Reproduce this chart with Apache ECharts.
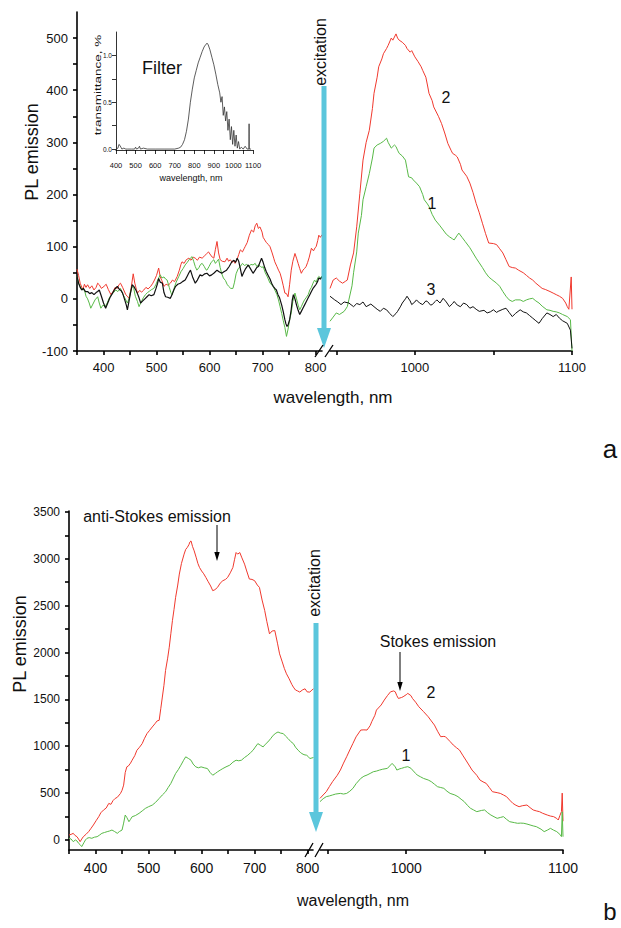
<!DOCTYPE html>
<html><head><meta charset="utf-8">
<script src="https://cdn.jsdelivr.net/npm/echarts@6/dist/echarts.min.js"></script>
<style>html,body{margin:0;padding:0;background:#fff}#c{width:621px;height:928px}</style>
</head><body><div id="c"></div>
<script>
// ---------------- DATA ----------------
// Panel a, left segment (nm, PL emission)
const a_curve2_left = [[350,57],[353,45],[356,30],[361,17],[364,28],[367,22],[370,27],[374,20],[378,25],[382,17],[386,22],[389,30],[392,27],[396,20],[401,24],[405,28],[409,18],[414,8],[418,14],[422,22],[426,20],[429,27],[432,30],[436,22],[439,15],[442,8],[445,5],[448,1],[452,20],[456,48],[459,30],[462,18],[464,11],[468,16],[472,13],[476,17],[480,22],[484,19],[489,24],[493,30],[497,38],[500,45],[504,59],[507,42],[510,35],[514,24],[518,28],[522,26],[526,30],[530,36],[534,33],[539,43],[543,55],[546,66],[548,71],[552,68],[556,75],[561,78],[565,74],[569,80],[573,78],[577,74],[581,80],[586,78],[590,82],[594,86],[598,90],[602,84],[605,80],[608,78],[611,95],[614,110],[617,88],[620,75],[624,72],[629,71],[633,78],[636,72],[639,75],[643,70],[646,73],[648,68],[652,76],[655,85],[658,94],[662,90],[665,96],[667,100],[671,108],[675,122],[679,132],[683,128],[686,140],[689,145],[692,135],[695,138],[699,128],[701,118],[704,113],[707,108],[711,104],[714,100],[718,88],[721,78],[723,71],[727,62],[730,55],[733,49],[736,38],[739,25],[742,11],[745,10],[748,4],[751,28],[754,55],[757,72],[761,87],[764,78],[767,68],[770,58],[773,49],[776,55],[779,58],[782,62],[785,70],[788,80],[792,97],[796,92],[799,98],[801,100],[804,112],[806,122],[809,118],[812,123]];
const a_curve1_left = [[350,43],[353,30],[357,22],[360,18],[364,17],[367,5],[370,0],[373,-8],[376,-18],[380,-10],[384,-2],[389,4],[392,-8],[395,-18],[399,-12],[403,-15],[407,-8],[411,2],[415,8],[419,12],[423,17],[427,14],[432,20],[436,10],[440,2],[445,-8],[448,0],[451,12],[454,24],[457,20],[460,5],[464,-5],[467,-15],[471,-6],[475,2],[479,8],[483,12],[487,15],[491,18],[495,20],[499,28],[503,38],[507,46],[510,40],[514,42],[517,38],[520,36],[524,22],[527,12],[529,8],[533,20],[537,32],[542,43],[546,52],[550,58],[554,65],[558,70],[562,76],[567,81],[570,72],[573,62],[576,55],[580,60],[583,66],[586,68],[590,62],[593,56],[595,55],[599,62],[603,70],[608,75],[611,68],[614,72],[617,76],[620,60],[623,48],[626,40],[630,35],[633,28],[636,24],[640,20],[644,20],[647,32],[650,48],[654,58],[658,62],[662,68],[666,64],[670,66],[674,62],[678,66],[682,65],[686,68],[689,62],[692,65],[696,62],[699,60],[701,62],[705,50],[709,42],[714,30],[718,26],[721,22],[723,17],[727,8],[730,-2],[733,-15],[736,-28],[739,-42],[742,-55],[745,-72],[748,-58],[751,-40],[754,-27],[757,-5],[761,11],[764,0],[767,-12],[770,-21],[773,-15],[776,-8],[779,-2],[782,2],[786,8],[789,17],[792,22],[795,30],[798,36],[801,32],[804,40],[806,43],[809,40],[812,44]];
const a_curve3_left = [[350,43],[353,30],[356,22],[359,17],[362,20],[366,14],[370,14],[374,10],[378,12],[382,8],[386,12],[389,14],[392,17],[396,5],[400,-8],[404,-18],[408,-8],[412,2],[417,11],[421,18],[426,24],[430,18],[433,16],[436,11],[440,-2],[443,-12],[445,-21],[448,-5],[451,12],[454,27],[457,24],[461,17],[464,10],[467,2],[470,-8],[474,-4],[478,0],[482,4],[486,8],[490,6],[495,8],[499,20],[502,30],[504,39],[507,32],[511,30],[514,12],[517,4],[521,3],[526,1],[530,10],[533,18],[536,24],[540,28],[545,30],[549,33],[554,36],[558,44],[561,50],[564,55],[568,42],[573,30],[577,36],[582,46],[586,44],[591,48],[595,49],[600,44],[604,46],[609,50],[614,55],[618,52],[623,49],[627,52],[632,55],[637,62],[642,71],[646,74],[649,70],[652,78],[655,72],[658,58],[661,43],[664,50],[668,58],[673,65],[677,58],[682,49],[686,55],[689,60],[692,62],[695,70],[698,78],[701,70],[704,60],[707,52],[711,44],[714,38],[717,30],[720,24],[723,20],[726,17],[729,8],[732,2],[736,-12],[739,-25],[742,-40],[744,-48],[746,-53],[748,-50],[751,-40],[754,-20],[756,-2],[758,8],[761,0],[764,-12],[767,-22],[770,-30],[773,-24],[776,-18],[779,-12],[782,-6],[786,2],[789,8],[792,14],[795,20],[798,24],[801,28],[804,34],[806,40],[809,38],[812,42]];
// Panel a, right segment
const a_curve2_right = [[946,20],[948,36],[950,40],[952,34],[954,30],[956,34],[957,36],[959,65],[961,88],[963,138],[965,202],[967,266],[969,300],[971,323],[973,365],[974,394],[976,425],[977,445],[979,460],[980,470],[982,480],[983,486],[985,500],[986,496],[988,508],[989,500],[990,496],[992,492],[994,486],[995,480],[997,473],[998,476],[1000,464],[1002,455],[1004,445],[1005,438],[1007,425],[1008,410],[1009,394],[1011,380],[1012,368],[1015,350],[1017,336],[1019,318],[1021,298],[1023,285],[1024,279],[1026,275],[1027,272],[1029,258],[1030,247],[1033,235],[1035,222],[1037,204],[1039,183],[1041,165],[1043,145],[1045,125],[1047,107],[1050,106],[1052,104],[1054,96],[1056,88],[1058,75],[1060,62],[1062,60],[1064,59],[1066,55],[1069,50],[1071,45],[1073,40],[1075,36],[1077,30],[1079,25],[1081,20],[1083,18],[1086,14],[1088,11],[1090,8],[1092,5],[1094,1],[1096,-8],[1097,-15],[1098,-20],[1099.5,42],[1100,-20]];
const a_curve1_right = [[946,-43],[948,-35],[950,-27],[952,-30],[955,-24],[957,-15],[958,-2],[960,25],[961,50],[963,90],[964,126],[966,160],[967,190],[969,215],[971,240],[973,270],[974,289],[976,295],[978,298],[980,302],[982,308],[983,300],[985,289],[987,295],[988,292],[989,285],[990,279],[992,274],[994,266],[995,250],[996,234],[998,232],[999,228],[1001,222],[1003,215],[1005,200],[1006,190],[1008,182],[1009,177],[1011,162],[1013,151],[1016,140],[1018,132],[1020,124],[1022,119],[1024,115],[1025,113],[1027,122],[1028,126],[1030,118],[1032,110],[1035,98],[1037,88],[1039,78],[1041,69],[1043,60],[1045,50],[1047,42],[1049,37],[1052,30],[1054,24],[1056,14],[1058,5],[1060,-2],[1062,-5],[1064,-2],[1067,-2],[1069,-5],[1071,-2],[1073,0],[1075,1],[1077,-4],[1079,-8],[1081,-14],[1084,-21],[1086,-22],[1088,-24],[1090,-25],[1092,-27],[1094,-30],[1097,-34],[1099,-40],[1100,-100]];
const a_curve3_right = [[946,5],[949,-2],[951,-6],[953,-11],[955,-6],[958,-8],[961,-15],[963,-9],[965,-11],[967,-6],[969,-15],[972,-10],[974,-15],[976,-20],[978,-24],[980,-18],[982,-21],[984,-28],[986,-34],[988,-28],[989,-24],[991,-14],[992,-8],[994,0],[995,5],[997,-4],[998,-11],[1000,-6],[1001,-2],[1003,-8],[1005,-11],[1007,-4],[1008,-5],[1010,-12],[1011,-11],[1013,-5],[1014,-2],[1016,-8],[1018,1],[1020,-6],[1022,-15],[1024,-9],[1025,-5],[1027,-12],[1029,-15],[1031,-8],[1033,-11],[1035,-18],[1037,-15],[1039,-20],[1041,-24],[1044,-22],[1046,-27],[1048,-25],[1050,-21],[1052,-26],[1053,-24],[1056,-20],[1058,-18],[1060,-26],[1062,-34],[1064,-28],[1067,-21],[1069,-25],[1071,-27],[1073,-32],[1075,-37],[1077,-42],[1079,-47],[1081,-38],[1084,-27],[1086,-30],[1088,-34],[1090,-30],[1092,-37],[1094,-42],[1097,-47],[1099,-60],[1100,-95]];
// Panel b, left segment
const b_curve2_left = [[350,53],[354,60],[358,71],[361,50],[365,35],[368,10],[371,-18],[374,10],[377,35],[382,60],[387,89],[391,120],[396,160],[401,205],[406,248],[410,290],[415,319],[420,340],[425,390],[429,380],[433,420],[437,443],[441,455],[447,496],[450,530],[453,585],[456,720],[459,780],[462,790],[466,820],[469,851],[474,900],[478,957],[483,990],[488,1028],[492,1080],[497,1135],[502,1170],[507,1206],[512,1240],[516,1270],[520,1277],[523,1400],[526,1525],[529,1650],[532,1808],[536,1940],[539,2057],[542,2200],[545,2340],[548,2460],[551,2589],[555,2720],[558,2837],[562,2950],[567,3050],[570,3100],[573,3121],[576,3150],[578,3180],[580,3191],[583,3130],[586,3085],[590,3010],[593,2950],[596,2908],[600,2870],[604,2840],[608,2801],[612,2760],[617,2710],[621,2660],[625,2670],[630,2695],[635,2740],[640,2766],[645,2780],[649,2801],[654,2850],[659,2908],[662,2990],[665,3067],[668,3050],[672,3067],[676,3010],[681,2943],[685,2870],[690,2784],[695,2780],[700,2766],[705,2720],[709,2695],[714,2560],[719,2447],[723,2330],[728,2199],[733,2230],[738,2234],[743,2100],[747,1986],[752,1900],[756,1830],[760,1773],[765,1720],[770,1660],[773,1631],[777,1600],[781,1590],[785,1578],[790,1600],[795,1613],[799,1580],[804,1578],[808,1600],[811,1613]];
const b_curve1_left = [[350,18],[354,10],[358,-18],[362,0],[365,-10],[368,-35],[371,-50],[374,-71],[378,-30],[381,0],[384,18],[388,25],[393,18],[398,30],[403,35],[407,50],[412,71],[417,80],[422,89],[426,95],[431,106],[436,90],[441,71],[445,90],[450,106],[453,180],[456,266],[459,240],[463,195],[466,220],[469,248],[475,260],[482,284],[488,310],[494,337],[500,355],[507,372],[513,400],[520,443],[526,480],[532,514],[537,560],[542,603],[546,650],[551,709],[556,750],[561,798],[566,850],[570,887],[575,870],[580,851],[584,810],[589,780],[594,770],[599,780],[605,770],[611,762],[616,720],[621,691],[626,710],[630,727],[635,745],[640,762],[646,780],[653,798],[659,830],[665,851],[670,845],[675,851],[681,880],[687,904],[692,930],[697,957],[701,990],[706,1028],[711,1010],[716,993],[720,1020],[725,1046],[730,1080],[735,1117],[740,1140],[744,1152],[749,1140],[754,1135],[758,1110],[763,1082],[768,1050],[773,1028],[777,990],[782,957],[786,935],[789,922],[793,910],[798,904],[801,890],[804,869],[808,875],[811,880]];
// Panel b, right segment
const b_curve2_right = [[945,444],[947,480],[949,515],[951,570],[953,622],[956,690],[958,746],[960,820],[962,888],[964,960],[966,1030],[968,1100],[971,1173],[973,1175],[975,1173],[977,1220],[978,1262],[980,1330],[981,1386],[984,1440],[986,1493],[988,1540],[990,1581],[992,1590],[993,1581],[994,1540],[995,1510],[997,1520],[998,1528],[1000,1550],[1001,1564],[1003,1540],[1004,1510],[1006,1470],[1008,1422],[1011,1370],[1014,1315],[1016,1270],[1018,1226],[1020,1160],[1022,1102],[1024,1105],[1025,1102],[1028,1050],[1030,1013],[1032,985],[1034,959],[1036,905],[1038,853],[1040,800],[1042,746],[1045,690],[1047,640],[1049,620],[1051,604],[1053,560],[1055,515],[1058,505],[1060,497],[1062,480],[1064,462],[1066,425],[1068,391],[1070,370],[1072,355],[1074,365],[1077,373],[1079,345],[1081,320],[1083,310],[1085,302],[1087,285],[1090,266],[1092,255],[1094,249],[1096,230],[1097,213],[1098,260],[1099,302],[1099.5,500],[1100,200]];
const b_curve1_right = [[945,409],[947,440],[949,462],[951,470],[953,480],[955,490],[958,497],[960,490],[962,497],[964,520],[966,551],[968,600],[971,657],[973,680],[975,693],[977,710],[979,728],[981,735],[983,746],[985,755],[988,764],[990,800],[991,817],[993,780],[994,746],[996,760],[997,764],[999,775],[1001,782],[1003,765],[1004,746],[1006,710],[1007,693],[1009,675],[1011,657],[1014,640],[1016,622],[1018,595],[1020,568],[1022,560],[1024,551],[1026,520],[1028,497],[1031,480],[1033,462],[1035,435],[1037,409],[1039,370],[1041,338],[1043,320],[1045,302],[1048,315],[1050,320],[1052,290],[1054,266],[1056,248],[1058,231],[1060,240],[1062,249],[1064,220],[1066,195],[1069,185],[1071,178],[1073,180],[1075,178],[1077,170],[1079,160],[1081,150],[1083,142],[1086,115],[1088,89],[1090,105],[1092,124],[1094,105],[1096,89],[1098,60],[1099,36],[1099.5,300],[1100,35]];
// Inset: filter transmittance
const filter_curve = [[400,0],[410,0.01],[415,0.05],[420,0.04],[425,0.02],[430,0],[440,0.01],[450,0],[460,0],[480,0],[495,0],[500,0.02],[505,0],[515,0.01],[520,0.03],[525,0],[540,0.01],[560,0],[600,0],[650,0],[700,0],[720,0.01],[730,0.02],[740,0.05],[750,0.1],[760,0.19],[770,0.32],[780,0.5],[790,0.64],[800,0.76],[810,0.84],[820,0.92],[830,0.98],[840,1.04],[850,1.09],[860,1.12],[865,1.13],[870,1.12],[880,1.06],[890,0.98],[900,0.9],[910,0.8],[920,0.69],[930,0.6],[936,0.5],[942,0.56],[948,0.36],[954,0.45],[960,0.3],[966,0.4],[972,0.2],[978,0.32],[984,0.1],[990,0.24],[996,0.05],[1002,0.2],[1008,0.03],[1014,0.15],[1020,0.01],[1026,0.08],[1032,0],[1040,0.02],[1050,0],[1060,0.03],[1070,0],[1079,0],[1080,0.27],[1081,0],[1090,0]];
// Tick values
const a_yLabels = [-100,0,100,200,300,400,500];
const a_yTicks = [-100,-50,0,50,100,150,200,250,300,350,400,450,500];
const b_yLabels = [0,500,1000,1500,2000,2500,3000,3500];
const b_yTicks = [0,250,500,750,1000,1250,1500,1750,2000,2250,2500,2750,3000,3250,3500];
const xLeftLabels = [400,500,600,700,800];
const xLeftTicks = [350,400,450,500,550,600,650,700,750,800];
const xRightLabels = [1000,1100];
const xRightTicks = [950,1000,1050,1100];
const insetXLabels = [400,500,600,700,800,900,1000,1100];
const insetXTicks = [400,450,500,550,600,650,700,750,800,850,900,950,1000,1050,1100];
const insetYLabels = [0,0.5,1.0];
const insetYTicks = [0,0.25,0.5,0.75,1.0];

// ---------------- CHART ----------------
const FONT = '"Liberation Sans", Arial, Helvetica, sans-serif';
const RED = '#f0392e', GREEN = '#58b947', BLACK = '#111', CYAN = '#5bc6dc';

function xAx(gi, min, max, labels, ticks, fs, show, lw, margin) {
  return {type:'value', gridIndex:gi, min, max, splitLine:{show:false},
    axisLine:{show:true, onZero:false, lineStyle:{color:'#000', width:lw}},
    axisTick:{show:true, inside:false, length:4, customValues:ticks, lineStyle:{color:'#000', width:lw}},
    axisLabel:{show:show, customValues:labels, fontSize:fs, fontFamily:FONT, color:'#111', margin:margin,
      formatter: v => String(v)},
    minorTick:{show:false}};
}
function yAx(gi, min, max, labels, ticks, fs, show, lw, margin, fmt) {
  return {type:'value', gridIndex:gi, min, max, splitLine:{show:false},
    axisLine:{show:show, onZero:false, lineStyle:{color:'#000', width:lw}},
    axisTick:{show:show, inside:false, length:4, customValues:ticks, lineStyle:{color:'#000', width:lw}},
    axisLabel:{show:show, customValues:labels, fontSize:fs, fontFamily:FONT, color:'#111', margin:margin,
      formatter: fmt || (v => String(v))}};
}
function line(data, color, xi, yi, w) {
  return {type:'line', data, xAxisIndex:xi, yAxisIndex:yi, showSymbol:false, symbol:'none',
    lineStyle:{color, width:w||1}, itemStyle:{color}, animation:false, silent:true, z:3};
}
function txt(x, y, s, size, rot, sx) {
  return {type:'text', x, y, rotation:rot||0, scaleX:sx||1, silent:true, z:100,
    style:{text:s, x:0, y:0, fontSize:size, fontFamily:FONT, fill:'#111',
      align:'center', verticalAlign:'middle', textAlign:'center', textVerticalAlign:'middle'}};
}
function seg(x1,y1,x2,y2,color,w){ return {type:'line', silent:true, z:100, shape:{x1,y1,x2,y2}, style:{stroke:color, lineWidth:w}}; }
function tri(pts,color){ return {type:'polygon', silent:true, z:100, shape:{points:pts}, style:{fill:color}}; }

const chart = echarts.init(document.getElementById('c'), null, {renderer:'svg', width:621, height:928});
const R = Math.PI/2;
chart.setOption({
  backgroundColor:'#fff',
  animation:false,
  grid:[
    {left:77, top:12, width:245, height:339},
    {left:330, top:12, width:242, height:339},
    {left:69, top:511, width:244, height:339},
    {left:320, top:511, width:243, height:339},
    {left:116, top:32, width:137, height:118}
  ],
  xAxis:[
    xAx(0, 350, 812, xLeftLabels, xLeftTicks, 13, true, 1.6, 10),
    xAx(1, 946, 1100, xRightLabels, xRightTicks, 13, true, 1.6, 10),
    xAx(2, 350, 810, xLeftLabels, xLeftTicks, 14, true, 1.6, 11),
    xAx(3, 945, 1100, xRightLabels, xRightTicks, 14, true, 1.6, 11),
    xAx(4, 400, 1100, insetXLabels, insetXTicks, 7.5, true, 0.8, 11)
  ],
  yAxis:[
    yAx(0, -100, 550, a_yLabels, a_yTicks, 13, true, 1.6, 9),
    yAx(1, -100, 550, [], [], 13, false, 1.6, 9),
    yAx(2, -107, 3510, b_yLabels, b_yTicks, 12, true, 1.6, 9),
    yAx(3, -107, 3510, [], [], 12, false, 1.6, 9),
    yAx(4, -0.01, 1.25, insetYLabels, insetYTicks, 6.5, true, 0.8, 4, v => v.toFixed(1))
  ],
  series:[
    line(a_curve2_left, RED, 0, 0), line(a_curve1_left, GREEN, 0, 0), line(a_curve3_left, BLACK, 0, 0, 1.2),
    line(a_curve2_right, RED, 1, 1), line(a_curve1_right, GREEN, 1, 1), line(a_curve3_right, BLACK, 1, 1),
    line(b_curve2_left, RED, 2, 2), line(b_curve1_left, GREEN, 2, 2),
    line(b_curve2_right, RED, 3, 3), line(b_curve1_right, GREEN, 3, 3),
    line(filter_curve, '#333', 4, 4, 0.8)
  ],
  graphic:{elements:[
    // panel a
    txt(32, 152, 'PL emission', 18, R),
    txt(333, 397, 'wavelength, nm', 17),
    txt(320.5, 52, 'excitation', 16, R),
    seg(324, 86, 324, 332, CYAN, 5),
    tri([[317,328],[331,328],[324,348]], CYAN),
    seg(315, 357, 323, 345, '#000', 1.3),
    seg(325, 357, 333, 345, '#000', 1.3),
    txt(446, 97, '2', 16), txt(432, 203, '1', 16), txt(431, 289, '3', 16),
    txt(162, 68, 'Filter', 18),
    txt(97.5, 85, 'transmittance, %', 9, R, 1.5),
    txt(191, 178, 'wavelength, nm', 9),
    txt(610, 449, 'a', 26),
    // panel b
    txt(20, 644, 'PL emission', 18, R),
    txt(353, 900, 'wavelength, nm', 16),
    txt(314, 583, 'excitation', 16, R),
    seg(316, 623, 316, 815, CYAN, 5),
    tri([[309,812],[323,812],[316,832]], CYAN),
    seg(305, 857, 313, 843, '#000', 1.3),
    seg(315, 857, 323, 843, '#000', 1.3),
    txt(157, 516, 'anti-Stokes emission', 16),
    seg(217, 525, 217, 554, '#000', 1),
    tri([[214.3,552],[219.7,552],[217,561]], '#000'),
    txt(438, 641, 'Stokes emission', 16),
    seg(400, 652, 400, 683, '#000', 1),
    tri([[397.3,682],[402.7,682],[400,691]], '#000'),
    txt(431, 692, '2', 16), txt(406, 755, '1', 16),
    txt(610, 911, 'b', 24)
  ]}
});
</script>
</body></html>
